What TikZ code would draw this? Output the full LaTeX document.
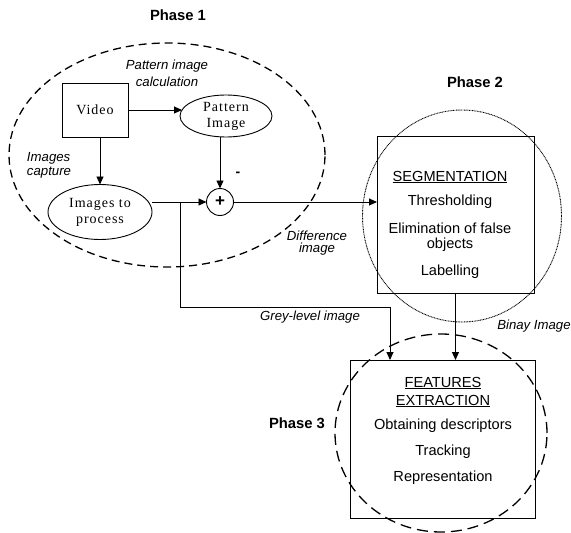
\documentclass[tikz,border=0pt]{standalone}
\usepackage{fontspec}
\setmainfont{Liberation Sans}
\newfontfamily\serifnode[LetterSpace=7]{Liberation Serif}
\usetikzlibrary{arrows.meta,shapes.geometric}
\begin{document}
\begin{tikzpicture}[x=1pt,y=-1pt,
  every node/.style={inner sep=0pt, outer sep=0pt},
  conn/.style={draw, line width=0.9pt},
  arr/.style={conn, -{Triangle[length=8pt,width=7pt]}},
  boxnode/.style={draw, line width=0.9pt},
  ellnode/.style={draw, ellipse, line width=0.9pt, align=center},
  sertext/.style={font=\serifnode\fontsize{14}{16}\selectfont, align=center},
  phaselabel/.style={font=\bfseries\fontsize{14.8}{16}\selectfont},
  note/.style={font=\itshape\fontsize{13.2}{14}\selectfont},
  body/.style={font=\fontsize{14.6}{17}\selectfont},
  phdash/.style={draw, ellipse, line width=1.3pt, dash pattern=on 8pt off 5pt},
  phdashb/.style={draw, ellipse, line width=1.3pt, dash pattern=on 11pt off 6pt},
  phdot/.style={draw, ellipse, line width=0.9pt, dash pattern=on 0.9pt off 0.7pt},
]
\useasboundingbox (0,0) rectangle (571,533);

% phase outlines
\node[phdash, minimum width=316pt, minimum height=224pt] (ph1) at (167,155) {};
\node[phdot, minimum width=199pt, minimum height=212pt] (ph2) at (462,216) {};
\node[phdashb, minimum width=212pt, minimum height=198pt] (ph3) at (441,433) {};

% phase labels
\node[phaselabel] (lp1) at (178,15) {Phase 1};
\node[phaselabel] (lp2) at (475,82) {Phase 2};
\node[phaselabel] (lp3) at (297,423) {Phase 3};

% phase 1 nodes
\node[boxnode, minimum width=66pt, minimum height=54pt, sertext] (video) at (95,110) {Video};
\node[ellnode, minimum width=92pt, minimum height=42pt, sertext] (pattern) at (226,116) {Pattern\\Image};
\node[ellnode, minimum width=104pt, minimum height=55pt, sertext] (imgs) at (100,212) {Images to\\process};
\node[draw, circle, line width=0.9pt, minimum size=27pt, font=\bfseries\fontsize{17}{17}\selectfont] (plus) at (220,202) {+};
\node[font=\bfseries\fontsize{14}{14}\selectfont] (minus) at (238,174) {-};

% notes
\node[note, align=center, font=\itshape\fontsize{13.2}{17}\selectfont] (npat) at (167,73) {Pattern image\\calculation};
\node[note, align=left, anchor=west] (ncap) at (27,165) {Images\\capture};
\node[note, align=center, font=\itshape\fontsize{13.2}{12.5}\selectfont] (ndiff) at (317,243) {Difference\\image};
\node[note] (ngrey) at (310,317) {Grey-level image};
\node[note] (nbin) at (534,326) {Binay Image};

% phase 2 box
\node[boxnode, minimum width=157pt, minimum height=157pt] (seg) at (455.5,214.5) {};
\node[body] (t1) at (450,177) {\underline{SEGMENTATION}};
\node[body] (t2) at (450,202) {Thresholding};
\node[body] (t3) at (450,228) {Elimination of false};
\node[body] (t4) at (450,245) {objects};
\node[body] (t5) at (450,272) {Labelling};

% phase 3 box
\node[boxnode, minimum width=185pt, minimum height=158pt] (feat) at (442.5,439) {};
\node[body] (f1) at (443,383) {\underline{FEATURES}};
\node[body] (f2) at (443,401) {\underline{EXTRACTION}};
\node[body] (f3) at (443,426) {Obtaining descriptors};
\node[body] (f4) at (443,452) {Tracking};
\node[body] (f5) at (443,478) {Representation};

% connectors
\coordinate (junc) at (180,202);
\coordinate (gdown) at (180,307);
\coordinate (gtop) at (390,307);
\draw[arr] (video.east) -- ([xshift=2pt]pattern.west |- video.east);
\draw[arr] (imgs.north |- video.south) -- (imgs.north);
\draw[arr] (plus.north |- pattern.south) -- (plus.north);
\draw[arr] (plus.west -| imgs.east) -- (plus.west);
\draw[arr] (plus.east) -- (plus.east -| seg.west);
\draw[conn] (junc) -- (gdown) -- (gtop);
\draw[arr] (gtop) -- (gtop |- feat.north);
\draw[arr] (seg.south) -- (seg.south |- feat.north);
\end{tikzpicture}
\end{document}
